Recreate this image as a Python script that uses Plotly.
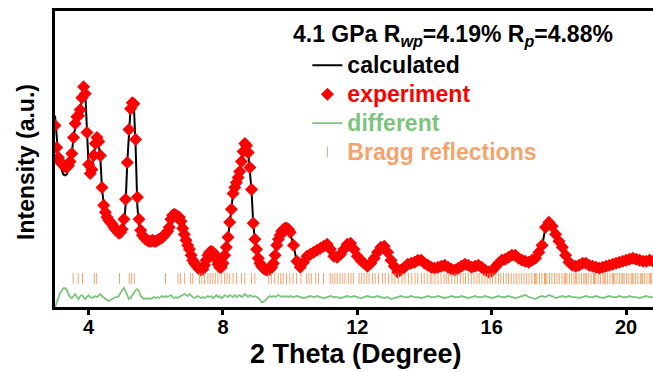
import plotly.graph_objects as go

# 2-theta sampling (degrees)
two_theta_a = [
    3.00, 3.05, 3.10, 3.15, 3.20, 3.25, 3.30, 3.35, 3.40, 3.45,
    3.50, 3.55, 3.60, 3.65, 3.70, 3.75, 3.80, 3.85, 3.90, 3.95,
    4.00, 4.05, 4.10, 4.15, 4.20, 4.25, 4.30, 4.35, 4.40, 4.45,
    4.50, 4.55, 4.60, 4.65, 4.70, 4.75, 4.80, 4.85, 4.90, 4.95,
    5.00, 5.05, 5.10, 5.15, 5.20, 5.25, 5.30, 5.35, 5.40, 5.45,
    5.50, 5.55, 5.60, 5.65, 5.70, 5.75, 5.80, 5.85, 5.90, 5.95,
    6.00, 6.05, 6.10, 6.15, 6.20, 6.25, 6.30, 6.35, 6.40, 6.45,
    6.50, 6.55, 6.60, 6.65, 6.70, 6.75, 6.80, 6.85, 6.90, 6.95,
    7.00, 7.05, 7.10, 7.15, 7.20, 7.25, 7.30, 7.35, 7.40, 7.45,
    7.50, 7.55, 7.60, 7.65, 7.70, 7.75, 7.80, 7.85, 7.90, 7.95,
    8.00, 8.05, 8.10, 8.15, 8.20, 8.25, 8.30, 8.35, 8.40, 8.45,
    8.50, 8.55, 8.60, 8.65, 8.70, 8.75, 8.80, 8.85, 8.90, 8.95,
    9.00, 9.05, 9.10, 9.15, 9.20, 9.25, 9.30, 9.35, 9.40, 9.45,
    9.50, 9.55, 9.60, 9.65, 9.70, 9.75, 9.80, 9.85, 9.90, 9.95,
    10.00,
]
two_theta_b = [
    10.1, 10.2, 10.3, 10.4, 10.5, 10.6, 10.7, 10.8, 10.9, 11.0,
    11.1, 11.2, 11.3, 11.4, 11.5, 11.6, 11.7, 11.8, 11.9, 12.0,
    12.1, 12.2, 12.3, 12.4, 12.5, 12.6, 12.7, 12.8, 12.9, 13.0,
    13.1, 13.2, 13.3, 13.4, 13.5, 13.6, 13.7, 13.8, 13.9, 14.0,
    14.1, 14.2, 14.3, 14.4, 14.5, 14.6, 14.7, 14.8, 14.9, 15.0,
    15.1, 15.2, 15.3, 15.4, 15.5, 15.6, 15.7, 15.8, 15.9, 16.0,
    16.1, 16.2, 16.3, 16.4, 16.5, 16.6, 16.7, 16.8, 16.9, 17.0,
    17.1, 17.2, 17.3, 17.4, 17.5, 17.6, 17.7, 17.8, 17.9, 18.0,
    18.1, 18.2, 18.3, 18.4, 18.5, 18.6, 18.7, 18.8, 18.9, 19.0,
    19.1, 19.2, 19.3, 19.4, 19.5, 19.6, 19.7, 19.8, 19.9, 20.0,
    20.1, 20.2, 20.3, 20.4, 20.5, 20.6, 20.7, 20.8,
]

# observed intensity (a.u.)
obs_a = [
    182, 160, 150, 146, 144, 142, 141, 140, 142, 146,
    154, 170, 184, 191, 192, 198, 210, 221, 214, 175,
    143, 134, 138, 152, 164, 170, 166, 152, 120, 102,
    95, 90, 87, 85, 83, 80, 78, 76, 74, 75,
    78, 88, 108, 145, 178, 199, 205, 204, 168, 110,
    88, 77, 72, 70, 68, 67, 66, 66, 67, 66,
    66, 67, 68, 69, 70, 72, 74, 76, 80, 88,
    92, 93, 92, 91, 90, 86, 79, 73, 67, 62,
    58, 52, 47, 44, 42, 40, 38, 37, 38, 42,
    47, 52, 55, 56, 55, 53, 48, 43, 40, 40,
    44, 52, 60, 70, 85, 98, 114, 120, 125, 130,
    136, 146, 156, 164, 162, 155, 140, 118, 84, 68,
    58, 49, 44, 41, 39, 38, 37, 37, 38, 40,
    44, 52, 62, 68, 72, 76, 78, 79, 79, 78,
    75,
]
obs_b = [
    62, 46, 40, 45, 51, 53, 55, 57, 59, 61,
    63, 58, 51, 50, 53, 58, 63, 64, 58, 51,
    47, 44, 41, 44, 49, 55, 60, 61, 55, 47,
    41, 35, 37, 40, 43, 44, 45, 47, 47, 44,
    42, 40, 39, 40, 41, 42, 40, 38, 37, 39,
    41, 43, 42, 40, 41, 42, 40, 37, 35, 36,
    40, 44, 47, 48, 50, 52, 52, 49, 47, 46,
    45, 47, 49, 55, 62, 80, 85, 81, 73, 66,
    60, 52, 45, 42, 41, 42, 44, 44, 42, 41,
    40, 39, 40, 41, 42, 43, 44, 45, 46, 47,
    48, 49, 48, 47, 46, 46, 47, 46,
]

# difference (obs - calc)
diff_a = [
    -10, -6, -1, 4, 7, 9, 9, 7, 3, 0,
    -1, 1, 3, 0, -2, 1, 2, 0, -2, 0,
    2, 0, -1, 0, 1, 0, 2, 3, 1, -1,
    -2, -3, -4, -3, -2, -1, 0, 0, 1, 4,
    7, 9, 6, 1, -2, -1, 2, 4, 7, 8,
    6, 1, -1, -2, -1, -2, -1, -2, -1, 0,
    -1, 0, -1, 0, 1, 0, 1, 0, 1, 2,
    0, -1, 0, -1, 0, 1, 2, 3, 2, 1,
    3, 1, 0, -1, 0, 1, 0, -1, 0, -1,
    0, 1, 0, 1, -1, 0, 2, 0, 1, -1,
    0, 2, 1, 0, 2, 1, 0, 2, 0, 1,
    2, 0, 1, 3, 1, 0, 2, 1, 0, 1,
    0, -1, -3, -5, -5, -3, -1, 0, 1, 0,
    1, 0, 1, 2, 1, 0, 1, 0, 1, 0,
    1,
]
diff_b = [
    0, 1, 0, -1, 0, 1, 0, 1, 0, -1,
    0, 1, 0, 0, -1, 0, 1, 0, 1, 0,
    -1, 0, 1, 0, 0, 1, 0, -1, 0, -2,
    -1, 0, 1, 0, 0, 1, 0, 0, -1, 0,
    1, 0, 0, 1, 0, -1, 0, 1, 0, 0,
    1, 0, -1, 0, 1, 0, 0, 1, 0, -1,
    0, 1, 0, 0, 1, 0, -1, 0, 1, 2,
    0, -1, -2, 0, 1, 0, 2, 1, -1, 0,
    1, 0, 1, 0, 0, -1, 0, 1, 0, 0,
    1, 0, -1, 0, 1, 0, 0, 1, 0, 0,
    1, 0, 0, -1, 0, 1, 0, 0,
]

# Bragg reflection positions (degrees)
bragg_pos = [
    3.54, 3.69, 3.82, 4.17, 4.24, 4.92, 5.21, 5.28, 5.36, 6.29,
    6.66, 6.74, 6.86, 7.03, 7.10, 7.30, 7.37, 7.45, 7.55, 7.62,
    7.70, 7.77, 7.85, 7.95, 8.05, 8.12, 8.20, 8.30, 8.40, 8.55,
    8.65, 8.85, 8.95, 9.36, 9.44, 9.54, 9.64, 9.72, 9.79, 9.89,
    9.99, 10.09, 10.19, 10.32, 10.49, 10.56, 10.64, 10.76, 10.84, 10.99,
    11.19, 11.25, 11.33, 11.40, 11.48, 11.55, 11.63, 11.73, 11.81, 11.88,
    12.05, 12.13, 12.20, 12.28, 12.35, 12.45, 12.53, 12.63, 12.75, 12.83,
    12.93, 13.03, 13.12, 13.22, 13.33, 13.42, 13.52, 13.62, 13.72, 13.80,
    13.91, 13.99, 14.08, 14.17, 14.22, 14.31, 14.40, 14.49, 14.58, 14.66,
    14.72, 14.81, 14.90, 14.98, 15.07, 15.15, 15.22, 15.30, 15.39, 15.47,
    15.56, 15.63, 15.71, 15.80, 15.88, 15.95, 16.03, 16.12, 16.20, 16.27,
    16.35, 16.43, 16.50, 16.58, 16.66, 16.73, 16.81, 16.89, 16.96, 17.04,
    17.11, 17.19, 17.27, 17.30, 17.34, 17.42, 17.49, 17.57, 17.60, 17.64,
    17.72, 17.79, 17.87, 17.94, 18.01, 18.09, 18.16, 18.20, 18.24, 18.31,
    18.38, 18.45, 18.50, 18.53, 18.60, 18.67, 18.74, 18.78, 18.82, 18.89,
    18.96, 19.03, 19.06, 19.10, 19.17, 19.24, 19.31, 19.35, 19.38, 19.45,
    19.52, 19.59, 19.62, 19.66, 19.73, 19.80, 19.87, 19.90, 19.94, 20.01,
    20.08, 20.15, 20.18, 20.21, 20.28, 20.35, 20.42, 20.45, 20.49, 20.55,
    20.62, 20.69, 20.72, 20.76,
]

x_ticks = [4, 8, 12, 16, 20]
diff_offset = 10
bragg_level = 28.5

two_theta = two_theta_a + two_theta_b
obs = obs_a + obs_b
diff = diff_a + diff_b
calc = [o - d for o, d in zip(obs, diff)]
diff_plot = [d + diff_offset for d in diff]


def leg(text, color):
    return f"<b><span style='font-size:23px;color:{color}'>{text}</span></b>"


fig = go.Figure()
fig.add_trace(go.Scatter(
    x=two_theta, y=calc, mode="lines", line=dict(color="black", width=2),
    name=leg("calculated", "#000000"), legendgroup="g1"))
fig.add_trace(go.Scatter(
    x=two_theta, y=obs, mode="markers",
    marker=dict(symbol="diamond", size=10, color="#FF0000", line=dict(width=0)),
    name=leg("experiment", "#FF0000"), legendgroup="g2"))
fig.add_trace(go.Scatter(
    x=two_theta, y=diff_plot, mode="lines", line=dict(color="#7CC47C", width=1.8),
    name=leg("different", "#7CC47C"), legendgroup="g3"))
fig.add_trace(go.Scatter(
    x=bragg_pos, y=[bragg_level] * len(bragg_pos), mode="markers",
    marker=dict(symbol="line-ns", size=8, line=dict(color="#F3A46C", width=1)),
    name=leg("Bragg reflections", "#F3A46C"), legendgroup="g4"))

fig.add_annotation(
    x=0.666, y=0.916, xref="paper", yref="paper", xanchor="center", yanchor="middle",
    showarrow=False,
    text="<b>4.1 GPa R<sub><i>wp</i></sub>=4.19% R<sub><i>p</i></sub>=4.88%</b>",
    font=dict(family="Arial", size=23, color="black"))

fig.add_annotation(
    x=-0.0485, y=0.49, xref="paper", yref="paper", xanchor="center", yanchor="middle",
    showarrow=False, textangle=-90,
    text="<b>Intensity (a.u.)</b>",
    font=dict(family="Arial", size=23, color="black"))

fig.add_annotation(
    x=0.503, y=-0.158, xref="paper", yref="paper", xanchor="center", yanchor="middle",
    showarrow=False,
    text="<b>2 Theta (Degree)</b>",
    font=dict(family="Arial", size=27, color="black"))

fig.update_layout(
    width=653, height=372,
    margin=dict(l=55, r=0, t=11, b=65),
    plot_bgcolor="white", paper_bgcolor="white",
    font=dict(family="Arial", color="black"),
    showlegend=True,
    legend=dict(x=0.422, y=0.883, xanchor="left", yanchor="top",
                bgcolor="rgba(0,0,0,0)", font=dict(size=20, family="Arial"),
                tracegroupgap=0),
    xaxis=dict(range=[3, 20.8], tickvals=x_ticks, ticks="outside", ticklen=5, tickwidth=3,
               tickcolor="black", showline=True, linecolor="black", linewidth=3, mirror=True,
               showgrid=False, zeroline=False, ticklabelstandoff=-5,
               tickfont=dict(size=20, family="Arial", weight="bold")),
    yaxis=dict(range=[0, 297], showticklabels=False, ticks="", showline=True, linecolor="black",
               linewidth=3, showgrid=False, zeroline=False),
)

fig.write_html("out.html")
